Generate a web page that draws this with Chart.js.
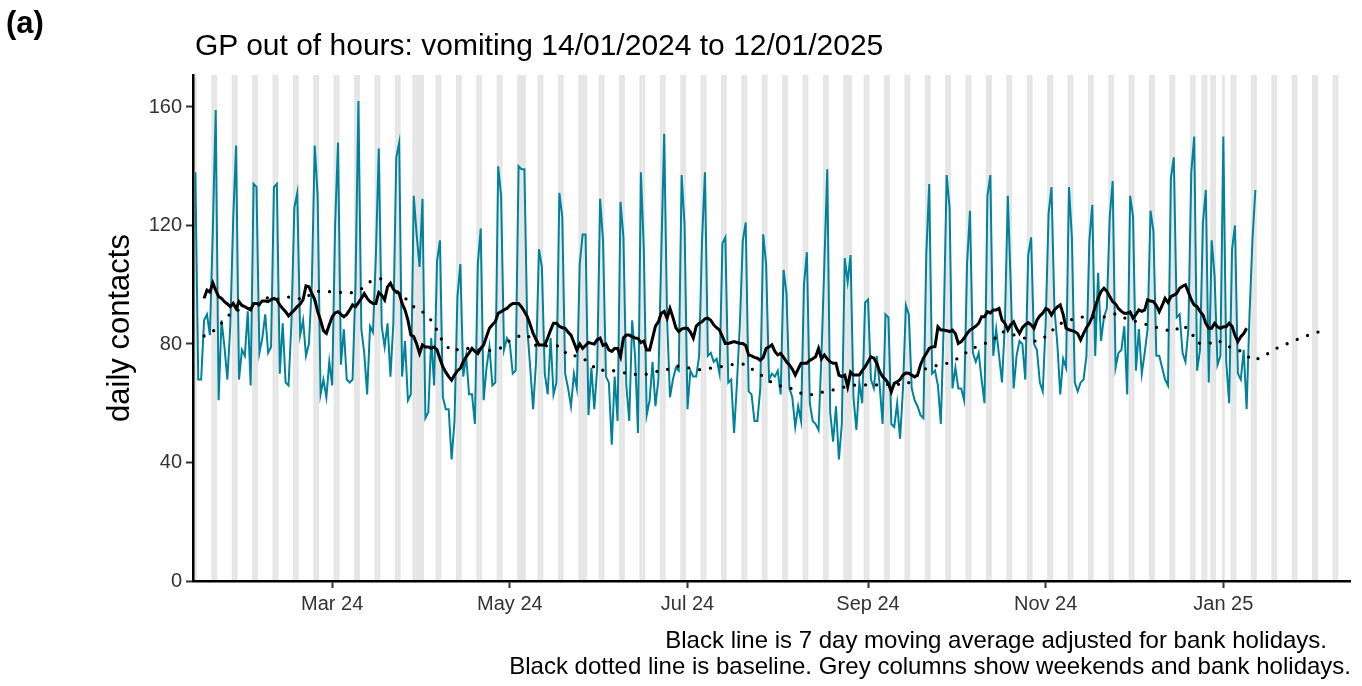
<!DOCTYPE html>
<html><head><meta charset="utf-8">
<script src="https://cdn.jsdelivr.net/npm/chart.js@4.4.1/dist/chart.umd.min.js"></script>
<style>
html,body{margin:0;padding:0;background:#fff;}
#wrap{position:relative;width:1362px;height:686px;overflow:hidden;font-family:"Liberation Sans",Arial,sans-serif;}
canvas{position:absolute;left:0;top:0;}
.t{position:absolute;white-space:nowrap;color:#000;line-height:1;}
</style></head><body>
<div id="wrap">
<canvas id="c" width="1362" height="686"></canvas>
<div class="t" style="left:6px;top:7px;font-size:31px;font-weight:bold;">(a)</div>
<div class="t" style="left:195px;top:30px;font-size:30px;">GP out of hours: vomiting 14/01/2024 to 12/01/2025</div>
<div class="t" style="right:35px;top:628px;font-size:24px;">Black line is 7 day moving average adjusted for bank holidays.</div>
<div class="t" style="right:11px;top:654px;font-size:24px;">Black dotted line is baseline. Grey columns show weekends and bank holidays.</div>
</div>
<script>
// ---- data ----
const startDate = '2024-01-14';
const dailyContacts = [138,
 68,68,88,90,83,118,159,
 61,88,79,68,86,122,147,
 68,78,76,91,66,134,133,
 77,82,90,77,79,133,134,
 70,87,67,66,87,126,131,
 83,88,76,80,100,147,130,
 63,68,62,74,66,120,148,
 73,85,68,67,68,100,162,
 85,77,63,86,84,110,146,
 86,79,87,69,87,143,148,
 69,81,61,63,130,117,106,
 129,55,57,82,66,108,115,
 62,58,58,41,54,96,107,
 69,76,63,63,53,107,119,
 61,72,79,66,67,140,130,
 78,82,80,70,71,140,139,
 139,85,72,58,74,112,106,
 70,63,82,63,67,131,123,
 70,65,59,70,65,107,117,
 117,56,72,58,72,129,115,
 69,67,46,69,54,128,116,
 66,54,88,76,50,138,112,
 56,61,74,59,68,110,151,
 88,62,68,72,71,137,120,
 58,71,69,69,76,115,138,
 76,77,74,75,70,114,116,
 67,68,50,67,87,115,121,
 64,63,54,54,65,117,107,
 68,70,69,71,63,105,97,
 65,62,52,59,54,100,111,
 60,54,53,51,76,107,139,
 57,47,59,41,53,109,101,
 110,62,51,67,60,94,95,
 68,65,76,66,53,90,89,
 53,52,60,48,65,93,90,
 65,61,59,56,55,110,134,
 70,71,66,53,87,137,126,
 65,72,65,65,61,107,125,
 77,74,77,68,60,130,137,
 76,85,76,67,87,130,100,
 65,76,81,80,68,110,116,
 80,78,67,64,87,124,133,
 92,80,63,75,72,133,116,
 67,64,67,68,76,115,127,
 76,104,81,89,92,123,135,
 72,77,78,86,63,130,123,
 71,85,70,77,85,125,118,
 76,76,72,68,66,136,143,
 89,90,77,74,85,138,150,
 71,78,121,132,67,115,103,
 73,76,150,74,60,112,120,
 70,68,78,58,90,115,132];

const movingAvgStartDay = 3;
const movingAvg = [
 95.4,98.2,97.5,100.6,98.2,96,95.4,94.3,93.5,92.6,
 93.7,92,94.3,93,92.6,92,91.5,93.7,93.7,93.5,
 94.5,94.5,94.3,95,95.4,94.9,93.2,92,90.9,89.5,
 90.5,91.5,92.6,93.5,95,99.6,99.3,97.1,95,91,
 88,84.5,83.6,86.5,89.2,90.5,90.9,90,89.2,90,
 91.5,93.2,92.6,94,95.4,97,95.4,94.3,93.7,93.7,
 97.4,96.5,94.9,99.3,100.5,98.5,97.5,97.1,93.7,91.5,
 88.1,83,82.5,80,76.8,79.7,79,79,78.5,79,
 78,75,72.3,70.5,69,67.8,69.5,71,71.8,74,
 75.7,77,78.5,77.5,76.8,78.5,79.7,82.5,85.3,86.5,
 87.5,90.4,90.9,91.5,92,93,93.7,93.7,93.7,92.5,
 91,89.2,86.5,83.6,81.5,79.7,79.7,79.7,82,84.7,
 87,87,86,85.5,85.3,84,83,80.5,78,80,
 78.5,79.5,80.5,80.2,80,81.5,82,79.5,80,78,
 77.5,78.5,78.5,75.7,82,83,83,82.5,82,81.9,
 80.5,81,78,78,82,86,87.5,90.4,91,88.7,
 92,89,85.5,84.2,85,85.3,85.3,84,82,86,
 87,87.5,88.5,88.7,88,86.5,85.5,84.7,82.5,80.2,
 80.2,80.5,80.8,80.5,80.2,80.2,79.5,76.3,76,75.5,
 75.2,74.5,75.5,78.5,79,79.7,77.5,76.3,76.8,75.5,
 74,72.9,71.5,69.5,71.5,73.5,73.5,73.5,74.5,75,
 75.7,78.5,75,76.3,75,74,73.5,73.5,69.5,69,
 69.5,65.6,70.5,69.5,69.5,69.5,71,72.3,74,75.7,
 75.2,73.5,70.7,69,68,66.7,63.9,66.7,67.2,68,
 69.5,70.2,70.1,69.5,68.9,69.5,72.9,75.2,76.8,78.5,
 79,79.1,85.8,84.7,84.7,84.5,84.2,84.7,83.5,80.2,
 80.8,82,83.5,84.7,85.3,86,87,89.2,89.2,90.9,
 90.5,91.5,91.5,92,88.1,87,84.7,86.5,87.5,85.3,
 83.6,85.5,86.5,87.2,86.5,85.3,88,89.5,90.4,92,
 91.5,89.8,91.5,92.5,93.2,90,85.3,84.8,84.5,84.2,
 83.5,81.4,83.5,85.5,87,89.2,92.6,95.4,97.7,98.8,
 97.8,96,94.3,93.5,92,91,90.4,90.4,90.8,88.7,
 90,91.5,91,91.5,94.9,94.5,94.3,93,90.9,93,
 95.4,94,96,96.5,97.1,98.8,99.5,100,97.5,94.9,
 93.2,92.6,91,89.8,87,85.3,85.3,87,85.8,85.3,
 85.8,85.8,87,86,83,80.8,82.5,83.5,85.3];

const baselineDays = [3,7,10,13,17,21,25,28,33,37,41,45,49,53,57,60,64,67,70,73,76,78,81,83,85,88,92,97,101,105,108,111,114,117,121,125,128,131,135,138,142,146,150,154,158,161,165,169,173,178,182,185,189,192,196,199,204,207,211,216,220,223,227,231,235,240,244,247,250,254,259,263,266,270,274,277,281,285,289,293,296,300,304,308,312,316,319,324,328,332,336,339,342,344,348,351,354,357,360,363,367,370,374,378,382,386];
const baselineValues = [82.7,84.9,88.1,91.3,91.7,92.4,95.8,95.1,96,95,97.8,97.7,97.5,97.1,98.6,101,102.1,100.3,97,94.7,91.5,90.9,88,84.6,80.7,77.5,78.7,78,77.8,78.7,81.2,82.6,83.1,79.4,79.4,79.4,76.1,76,74.1,71,71.3,70.5,69.8,69.6,70.7,71,72.6,72,71.3,72,72.6,73.2,73.2,70.9,68.4,66.2,65.3,63.6,62.8,63.9,64.7,65.5,66.2,66.2,66.2,66.5,66.2,68.5,71.4,72.6,73.7,75.7,78.2,79.7,81.4,84.2,83.1,81.9,80.8,83.1,86.5,88,89.1,89.1,89.1,90.2,88.8,87.3,86.2,85,84.2,86.5,84,80.3,80.1,81.4,79.4,78.5,77.1,74.4,75.8,78,79.7,81.4,82.9,84.2];

const bankHolidays = ['2024-03-29','2024-04-01','2024-05-06','2024-05-27','2024-08-26','2024-12-25','2024-12-26','2025-01-01'];
const greyPeriodEnd = '2025-02-09';
const xTickDates = ['2024-03-01','2024-05-01','2024-07-01','2024-09-01','2024-11-01','2025-01-01'];
const xTickLabels = ['Mar 24','May 24','Jul 24','Sep 24','Nov 24','Jan 25'];
const yTicks = [0,40,80,120,160];

// ---- helpers ----
function dayIndex(s){const [y,m,d]=s.split('-').map(Number);const [y0,m0,d0]=startDate.split('-').map(Number);return Math.round((Date.UTC(y,m-1,d)-Date.UTC(y0,m0-1,d0))/86400000);}
const tickDays = xTickDates.map(dayIndex);
const greyDays = [];
const lastGrey = dayIndex(greyPeriodEnd);
const bh = bankHolidays.map(dayIndex);
for(let d=0; d<=lastGrey; d++){const wd=(d%7+7)%7; if(wd===6||wd===0||bh.includes(d)) greyDays.push(d);}

const FONT = '"Liberation Sans", Arial, sans-serif';
const teal = '#00829B';

const greyColumns = {
  id:'greyColumns',
  beforeDraw(chart){
    const {ctx, chartArea:a, scales:{x}} = chart;
    ctx.save();
    ctx.beginPath(); ctx.rect(a.left,a.top,a.right-a.left,a.bottom-a.top); ctx.clip();
    ctx.fillStyle = '#E5E5E5';
    greyDays.forEach(d=>{const x0=x.getPixelForValue(d-0.5), x1=x.getPixelForValue(d+0.5); ctx.fillRect(x0,a.top,x1-x0,a.bottom-a.top);});
    ctx.restore();
  }
};

new Chart(document.getElementById('c'), {
  type:'line',
  data:{datasets:[
    {label:'Baseline', data:baselineDays.map((d,i)=>({x:d,y:baselineValues[i]})), borderColor:'#000', borderWidth:3.3, borderDash:[0,11], borderCapStyle:'round', pointRadius:0, order:1},
    {label:'7 day moving average', data:movingAvg.map((v,i)=>({x:movingAvgStartDay+i,y:v})), borderColor:'#000', borderWidth:3, pointRadius:0, order:2},
    {label:'Daily contacts', data:dailyContacts.map((v,i)=>({x:i,y:v})), borderColor:teal, borderWidth:2, pointRadius:0, order:3}
  ]},
  options:{
    responsive:false, animation:false, devicePixelRatio:1,
    layout:{padding:{left:0,top:75,right:12,bottom:0}},
    plugins:{legend:{display:false}, tooltip:{enabled:false}},
    elements:{line:{tension:0}},
    scales:{
      x:{type:'linear', min:-0.8, max:396.5,
        afterFit(s){s.height=105;},
        afterBuildTicks(s){s.ticks=tickDays.map(v=>({value:v}));},
        ticks:{callback:(v,i)=>xTickLabels[i], font:{family:FONT,size:20}, color:'#333', padding:4, maxRotation:0, autoSkip:false},
        grid:{drawOnChartArea:false, drawTicks:true, tickLength:7, tickColor:'#333', tickWidth:2},
        border:{display:true, color:'#000', width:2.5}},
      y:{min:0, max:170.8,
        afterFit(s){s.width=193;},
        afterBuildTicks(s){s.ticks=yTicks.map(v=>({value:v}));},
        ticks:{font:{family:FONT,size:20}, color:'#333', padding:4},
        grid:{drawOnChartArea:false, drawTicks:true, tickLength:7, tickColor:'#333', tickWidth:2},
        border:{display:true, color:'#000', width:2.5},
        title:{display:true, text:'daily contacts', color:'#000', font:{family:FONT,size:31}, padding:{top:102,bottom:0}}}
    }
  },
  plugins:[greyColumns]
});
</script>
</body></html>
